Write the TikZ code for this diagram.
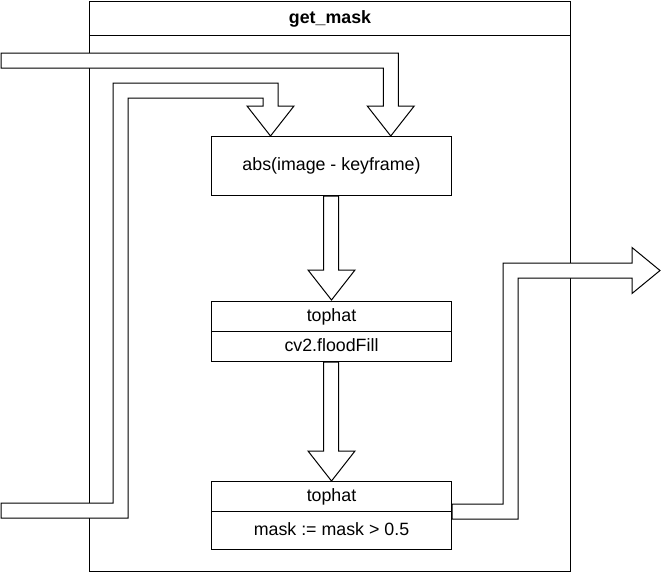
\documentclass[tikz,border=0pt]{standalone}
\usepackage{fontspec}
\setmainfont{Liberation Sans}
\usetikzlibrary{calc}
\begin{document}
\begin{tikzpicture}[x=1pt,y=-1pt,
  every node/.style={font=\fontsize{17.8}{20}\selectfont, inner sep=0pt, text height=12.8pt, text depth=3.7pt},
  boxstyle/.style={draw, line width=1pt, fill=white, minimum width=240pt},
  barrow/.style={draw, line width=1pt, fill=white, line join=miter}]
\useasboundingbox (0,0) rectangle (662,573);
% frame
\node[draw, line width=1pt, anchor=north west, minimum width=481pt, minimum height=570pt] (frame) at (89,1) {};
\node[draw, line width=1pt, anchor=north west, minimum width=481pt, minimum height=34pt, font=\fontsize{17.8}{20}\selectfont\bfseries] (title) at (89,1) {get\_mask};
% boxes
\node[boxstyle, minimum height=59pt, anchor=north west] (box1) at (211,136) {abs(image - keyframe)};
\node[boxstyle, minimum height=30pt, anchor=north west] (box2a) at (211,301) {tophat};
\node[boxstyle, minimum height=30pt, anchor=north west] (box2b) at (211,331) {cv2.floodFill};
\node[boxstyle, minimum height=30pt, anchor=north west] (box3a) at (211,481) {tophat};
\node[boxstyle, minimum height=38pt, anchor=north west] (box3b) at (211,511) {mask := mask > 0.5};
% coordinates
\coordinate (in1) at (1,60.5);
\coordinate (t1) at ($(box1.north west)+(179.75,0)$);
\coordinate (in2) at (1,510.5);
\coordinate (k2) at (120.5,90.5);
\coordinate (t2) at ($(box1.north west)+(59.5,0)$);
\coordinate (o1) at ($(box3a.south east)+(0,-0.5)$);
\coordinate (k3) at (510.5,270.5);
\coordinate (out) at (660,270.5);
% input arrow 1
\draw[barrow] ($(in1)+(0,-7.5)$) -- ($(t1|-in1)+(7.5,-7.5)$) -- ($(t1)+(7.5,-30)$) -- ($(t1)+(23.5,-30)$) -- (t1)
  -- ($(t1)+(-23.5,-30)$) -- ($(t1)+(-7.5,-30)$) -- ($(t1|-in1)+(-7.5,7.5)$) -- ($(in1)+(0,7.5)$) -- cycle;
% input arrow 2
\draw[barrow] ($(in2)+(0,-7.5)$) -- ($(k2|-in2)+(-7.5,-7.5)$) -- ($(k2)+(-7.5,-7.5)$) -- ($(t2|-k2)+(7.5,-7.5)$)
  -- ($(t2)+(7.5,-30)$) -- ($(t2)+(23.5,-30)$) -- (t2) -- ($(t2)+(-23.5,-30)$) -- ($(t2)+(-7.5,-30)$)
  -- ($(t2|-k2)+(-7.5,7.5)$) -- ($(k2)+(7.5,7.5)$) -- ($(k2|-in2)+(7.5,7.5)$) -- ($(in2)+(0,7.5)$) -- cycle;
% down arrow 1
\draw[barrow] ($(box1.south)+(-8,0)$) -- ($(box1.south)+(7,0)$) -- ($(box2a.north)+(7,-31)$) -- ($(box2a.north)+(23.5,-31)$)
  -- ($(box2a.north)+(0,-1)$) -- ($(box2a.north)+(-23.5,-31)$) -- ($(box2a.north)+(-8,-31)$) -- cycle;
% down arrow 2
\draw[barrow] ($(box2b.south)+(-8,0)$) -- ($(box2b.south)+(7,0)$) -- ($(box3a.north)+(7,-30)$) -- ($(box3a.north)+(23.5,-30)$)
  -- (box3a.north) -- ($(box3a.north)+(-23.5,-30)$) -- ($(box3a.north)+(-8,-30)$) -- cycle;
% output arrow
\draw[barrow] ($(o1)+(0,-7.5)$) -- ($(k3|-o1)+(-7.5,-7.5)$) -- ($(k3)+(-7.5,-7.5)$) -- ($(out)+(-28,-7.5)$)
  -- ($(out)+(-28,-23)$) -- (out) -- ($(out)+(-28,23)$) -- ($(out)+(-28,7.5)$) -- ($(k3)+(7.5,7.5)$)
  -- ($(k3|-o1)+(7.5,7.5)$) -- ($(o1)+(0,7.5)$) -- cycle;
\end{tikzpicture}
\end{document}
